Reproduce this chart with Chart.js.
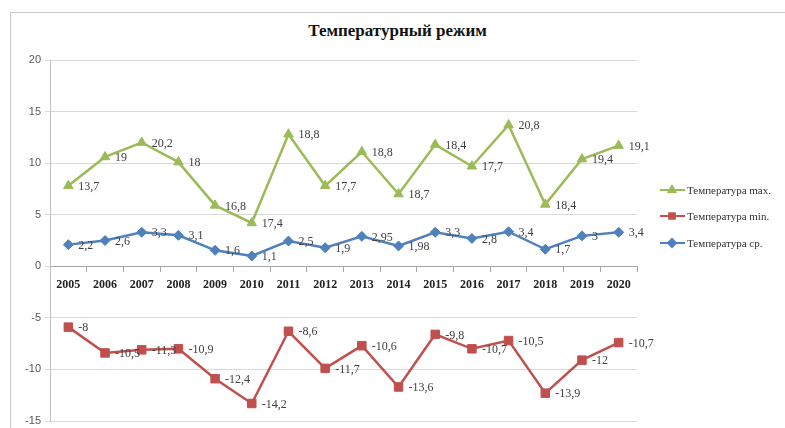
<!DOCTYPE html>
<html>
<head>
<meta charset="utf-8">
<script src="https://cdn.jsdelivr.net/npm/chart.js@4"></script>
<style>
    html, body { margin: 0; padding: 0; background: #fff; }
    #wrap { position: relative; width: 785px; height: 428px; overflow: hidden; }
    #frame { position: absolute; left: 10px; top: 12px; width: 800px; height: 440px; border: 1px solid #c8c8c8; }
    #title { position: absolute; left: 0; top: 21px; width: 795px; text-align: center;
             font: bold 17px "Liberation Serif", serif; color: #111; }
    canvas { position: absolute; left: 0; top: 0; }
</style>
</head>
<body>
<div id="wrap">
    <div id="frame"></div>
    <div id="title">Температурный режим</div>
    <canvas id="tempChart" width="785" height="428"></canvas>
</div>
<script>
// ==================== ДАННЫЕ ====================
const years = ['2005','2006','2007','2008','2009','2010','2011','2012','2013','2014','2015','2016','2017','2018','2019','2020'];

// положение точек на графике
const maxValues = [7.8, 10.6, 12.0, 10.1, 5.9, 4.2, 12.8, 7.8, 11.1, 7.0, 11.8, 9.7, 13.7, 6.0, 10.4, 11.7];
const minValues = [-5.9, -8.4, -8.1, -8.0, -10.9, -13.3, -6.3, -9.9, -7.7, -11.7, -6.6, -8.0, -7.2, -12.3, -9.1, -7.4];
const avgValues = [2.1, 2.5, 3.3, 3.0, 1.55, 1.0, 2.45, 1.8, 2.9, 1.97, 3.3, 2.7, 3.35, 1.65, 2.95, 3.3];

// подписи данных (как на исходной диаграмме)
const maxLabels = ['13,7','19','20,2','18','16,8','17,4','18,8','17,7','18,8','18,7','18,4','17,7','20,8','18,4','19,4','19,1'];
const minLabels = ['-8','-10,5','-11,3','-10,9','-12,4','-14,2','-8,6','-11,7','-10,6','-13,6','-9,8','-10,7','-10,5','-13,9','-12','-10,7'];
const avgLabels = ['2,2','2,6','3,3','3,1','1,6','1,1','2,5','1,9','2,95','1,98','3,3','2,8','3,4','1,7','3','3,4'];

const yTicks = [20, 15, 10, 5, 0, -5, -10, -15];

const seriesNames = ['Температура max.', 'Температура min.', 'Температура ср.'];

// ==================== ПЛАГИН ПОДПИСЕЙ И ЛЕГЕНДЫ ====================
const labelsPlugin = {
    id: 'pointLabels',
    afterDatasetsDraw(chart) {
        const ctx = chart.ctx;
        const allLabels = [maxLabels, minLabels, avgLabels];
        ctx.save();
        ctx.font = '12px "Liberation Serif", serif';
        ctx.fillStyle = '#404040';
        ctx.textBaseline = 'middle';
        ctx.textAlign = 'left';
        chart.data.datasets.forEach((ds, i) => {
            chart.getDatasetMeta(i).data.forEach((pt, j) => {
                ctx.fillText(allLabels[i][j], pt.x + 10, pt.y + 1);
            });
        });

        // легенда справа
        const rows = [190, 216, 243];
        chart.data.datasets.forEach((ds, i) => {
            const y = rows[i];
            ctx.strokeStyle = ds.borderColor;
            ctx.lineWidth = 2;
            ctx.beginPath();
            ctx.moveTo(660, y);
            ctx.lineTo(685, y);
            ctx.stroke();
            Chart.helpers.drawPoint(ctx, { pointStyle: ds.pointStyle, radius: 4, borderWidth: 1, rotation: 0 }, 672, y);
            ctx.fillStyle = ds.backgroundColor;
            ctx.fill();
            ctx.fillStyle = '#333';
            ctx.font = '11px "Liberation Serif", serif';
            ctx.fillText(ds.label, 687, y + 1);
        });
        ctx.restore();
    }
};

// ==================== ГРАФИК ====================
function makeSeries(label, data, color, style, radius) {
    return {
        label: label,
        data: data,
        borderColor: color,
        backgroundColor: color,
        borderWidth: 2.5,
        pointStyle: style,
        pointRadius: radius,
        pointBorderWidth: 1,
        tension: 0
    };
}

new Chart(document.getElementById('tempChart'), {
    type: 'line',
    data: {
        labels: years,
        datasets: [
            makeSeries(seriesNames[0], maxValues, '#9bbb59', 'triangle', 5.5),
            makeSeries(seriesNames[1], minValues, '#c0504d', 'rect', 6),
            makeSeries(seriesNames[2], avgValues, '#4f81bd', 'rectRot', 5)
        ]
    },
    options: {
        responsive: false,
        animation: false,
        layout: { padding: { top: 60, right: 148, bottom: 6, left: 0 } },
        plugins: { legend: { display: false }, title: { display: false }, tooltip: { enabled: false } },
        scales: {
            x: {
                position: { y: 0 },
                offset: true,
                grid: { offset: true, drawOnChartArea: false, tickLength: 5, color: '#a6a6a6' },
                border: { color: '#a6a6a6' },
                ticks: { padding: 6, color: '#222', font: { family: '"Liberation Serif", serif', size: 12, weight: 'bold' } }
            },
            y: {
                min: -15,
                max: 20,
                afterFit(scale) {
                    scale.width = 50;
                    scale.paddingTop = 0;
                    scale.paddingBottom = 0;
                },
                afterBuildTicks(scale) { scale.ticks = yTicks.map(v => ({ value: v })); },
                grid: { color: '#d9d9d9', tickLength: 5, drawTicks: true },
                border: { color: '#bfbfbf' },
                ticks: { padding: 4, color: '#595959', font: { family: '"Liberation Sans", sans-serif', size: 11 } }
            }
        }
    },
    plugins: [labelsPlugin]
});
</script>
</body>
</html>
